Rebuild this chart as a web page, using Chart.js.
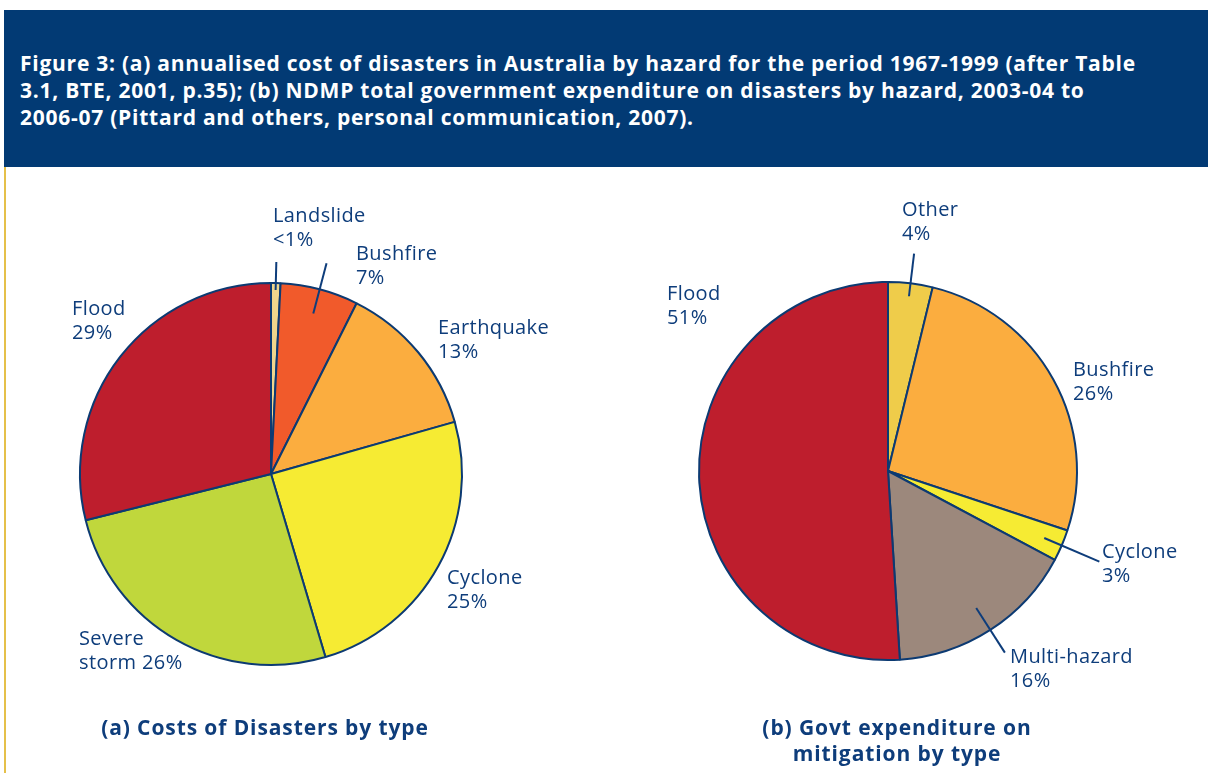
<!DOCTYPE html>
<html>
<head>
<meta charset="utf-8">
<script src="https://cdn.jsdelivr.net/npm/chart.js@4.4.0/dist/chart.umd.min.js"></script>
<style>
  body { margin: 0; width: 1208px; height: 773px; overflow: hidden; background: #fff; position: relative; font-family: "Open Sans", sans-serif; }
  #header { position: absolute; left: 4px; top: 10px; width: 1204px; height: 157px; background: #023a74; }
  #header p { margin: 0; position: absolute; left: 16px; top: 40px; color: #fff; font-weight: bold; font-size: 21px; letter-spacing: 0.75px; line-height: 27px; white-space: nowrap; }
  #sideline { position: absolute; left: 4px; top: 167px; width: 2px; height: 606px; background: #e5c04a; }
  canvas { position: absolute; }
  .sub { position: absolute; color: #0e3d7b; font-weight: bold; font-size: 21px; letter-spacing: 0.9px; line-height: 26px; text-align: center; }
</style>
</head>
<body>
<div id="header"><p>Figure 3: (a) annualised cost of disasters in Australia by hazard for the period 1967-1999 (after Table<br>3.1, BTE, 2001, p.35); (b) NDMP total government expenditure on disasters by hazard, 2003-04 to<br>2006-07 (Pittard and others, personal communication, 2007).</p></div>
<div id="sideline"></div>
<canvas id="pieA" width="580" height="560" style="left:-19px; top:194px"></canvas>
<canvas id="pieB" width="600" height="560" style="left:588px; top:191px"></canvas>
<div class="sub" style="left:65px; top:714px; width:400px">(a) Costs of Disasters by type</div>
<div class="sub" style="left:697px; top:714px; width:400px">(b) Govt expenditure on<br>mitigation by type</div>
<script>
// (a) annualised cost of disasters 1967-1999, % share
var hazardsA = ['Landslide', 'Bushfire', 'Earthquake', 'Cyclone', 'Severe storm', 'Flood'];
var costShareA = [0.8, 6.6, 13.2, 24.8, 25.7, 28.9];
var pctTextA = ['<1%', '7%', '13%', '25%', '26%', '29%'];
var coloursA = ['#f0d68c', '#f15a2b', '#fbad3f', '#f6eb33', '#c0d73c', '#be1e2d'];

// (b) NDMP government expenditure on mitigation, % share
var hazardsB = ['Other', 'Bushfire', 'Cyclone', 'Multi-hazard', 'Flood'];
var spendShareB = [3.8, 26.3, 2.7, 16.2, 51.0];
var pctTextB = ['4%', '26%', '3%', '16%', '51%'];
var coloursB = ['#efcc4a', '#fbad3f', '#f6eb33', '#9c887c', '#be1e2d'];

// label placement relative to the pie centre, leader = [inner r, outer r] along slice middle
var layoutA = [
    { dx: 2, dy: -258, leader: [184, 212] },
    { dx: 85, dy: -220, leader: [166, 218] },
    { dx: 167, dy: -146 },
    { dx: 176, dy: 104 },
    { dx: -192, dy: 165, wrap: true },
    { dx: -199, dy: -165 }
];
var layoutB = [
    { dx: 14, dy: -261, leader: [176, 219] },
    { dx: 185, dy: -101 },
    { dx: 214, dy: 81, leader: [170, 230] },
    { dx: 122, dy: 186, leader: [163, 216] },
    { dx: -221, dy: -177 }
];

var navy = '#0e3d7b';

function textLines(name, pct, wrap) {
    if (wrap) {
        var words = name.split(' ');
        return [words[0], words.slice(1).join(' ') + ' ' + pct];
    }
    return [name, pct];
}

//Draws the slice names, percentages and leader lines next to each pie
var sliceLabels = {
    id: 'sliceLabels',
    afterDraw: function (chart, args, opts) {
        var ctx = chart.ctx;
        var arcs = chart.getDatasetMeta(0).data;
        ctx.save();
        ctx.font = '20px "Open Sans"';
        ctx.letterSpacing = '0.4px';
        ctx.fillStyle = navy;
        ctx.strokeStyle = navy;
        ctx.lineWidth = 2;
        ctx.textBaseline = 'middle';
        for (var i = 0; i < arcs.length; i++) {
            var arc = arcs[i];
            var lay = opts.layout[i];
            var lines = textLines(opts.names[i], opts.pcts[i], lay.wrap);
            for (var j = 0; j < lines.length; j++) {
                ctx.fillText(lines[j], arc.x + lay.dx, arc.y + lay.dy + j * 24.5);
            }
            if (lay.leader) {
                var mid = (arc.startAngle + arc.endAngle) / 2;
                ctx.beginPath();
                ctx.moveTo(arc.x + Math.cos(mid) * lay.leader[0], arc.y + Math.sin(mid) * lay.leader[0]);
                ctx.lineTo(arc.x + Math.cos(mid) * lay.leader[1], arc.y + Math.sin(mid) * lay.leader[1]);
                ctx.stroke();
            }
        }
        ctx.restore();
    }
};

function makePie(id, names, values, colours, pcts, layout, padX, padY) {
    return new Chart(document.getElementById(id), {
        type: 'pie',
        data: {
            labels: names,
            datasets: [{
                data: values,
                backgroundColor: colours,
                borderColor: '#0c3a72',
                borderWidth: 2
            }]
        },
        options: {
            responsive: false,
            animation: false,
            layout: { padding: { left: padX, right: padX, top: padY, bottom: padY } },
            plugins: {
                legend: { display: false },
                tooltip: { enabled: false },
                sliceLabels: { names: names, pcts: pcts, layout: layout }
            }
        },
        plugins: [sliceLabels]
    });
}

makePie('pieA', hazardsA, costShareA, coloursA, pctTextA, layoutA, 98, 88);
makePie('pieB', hazardsB, spendShareB, coloursB, pctTextB, layoutB, 110, 90);
</script>
</body>
</html>
